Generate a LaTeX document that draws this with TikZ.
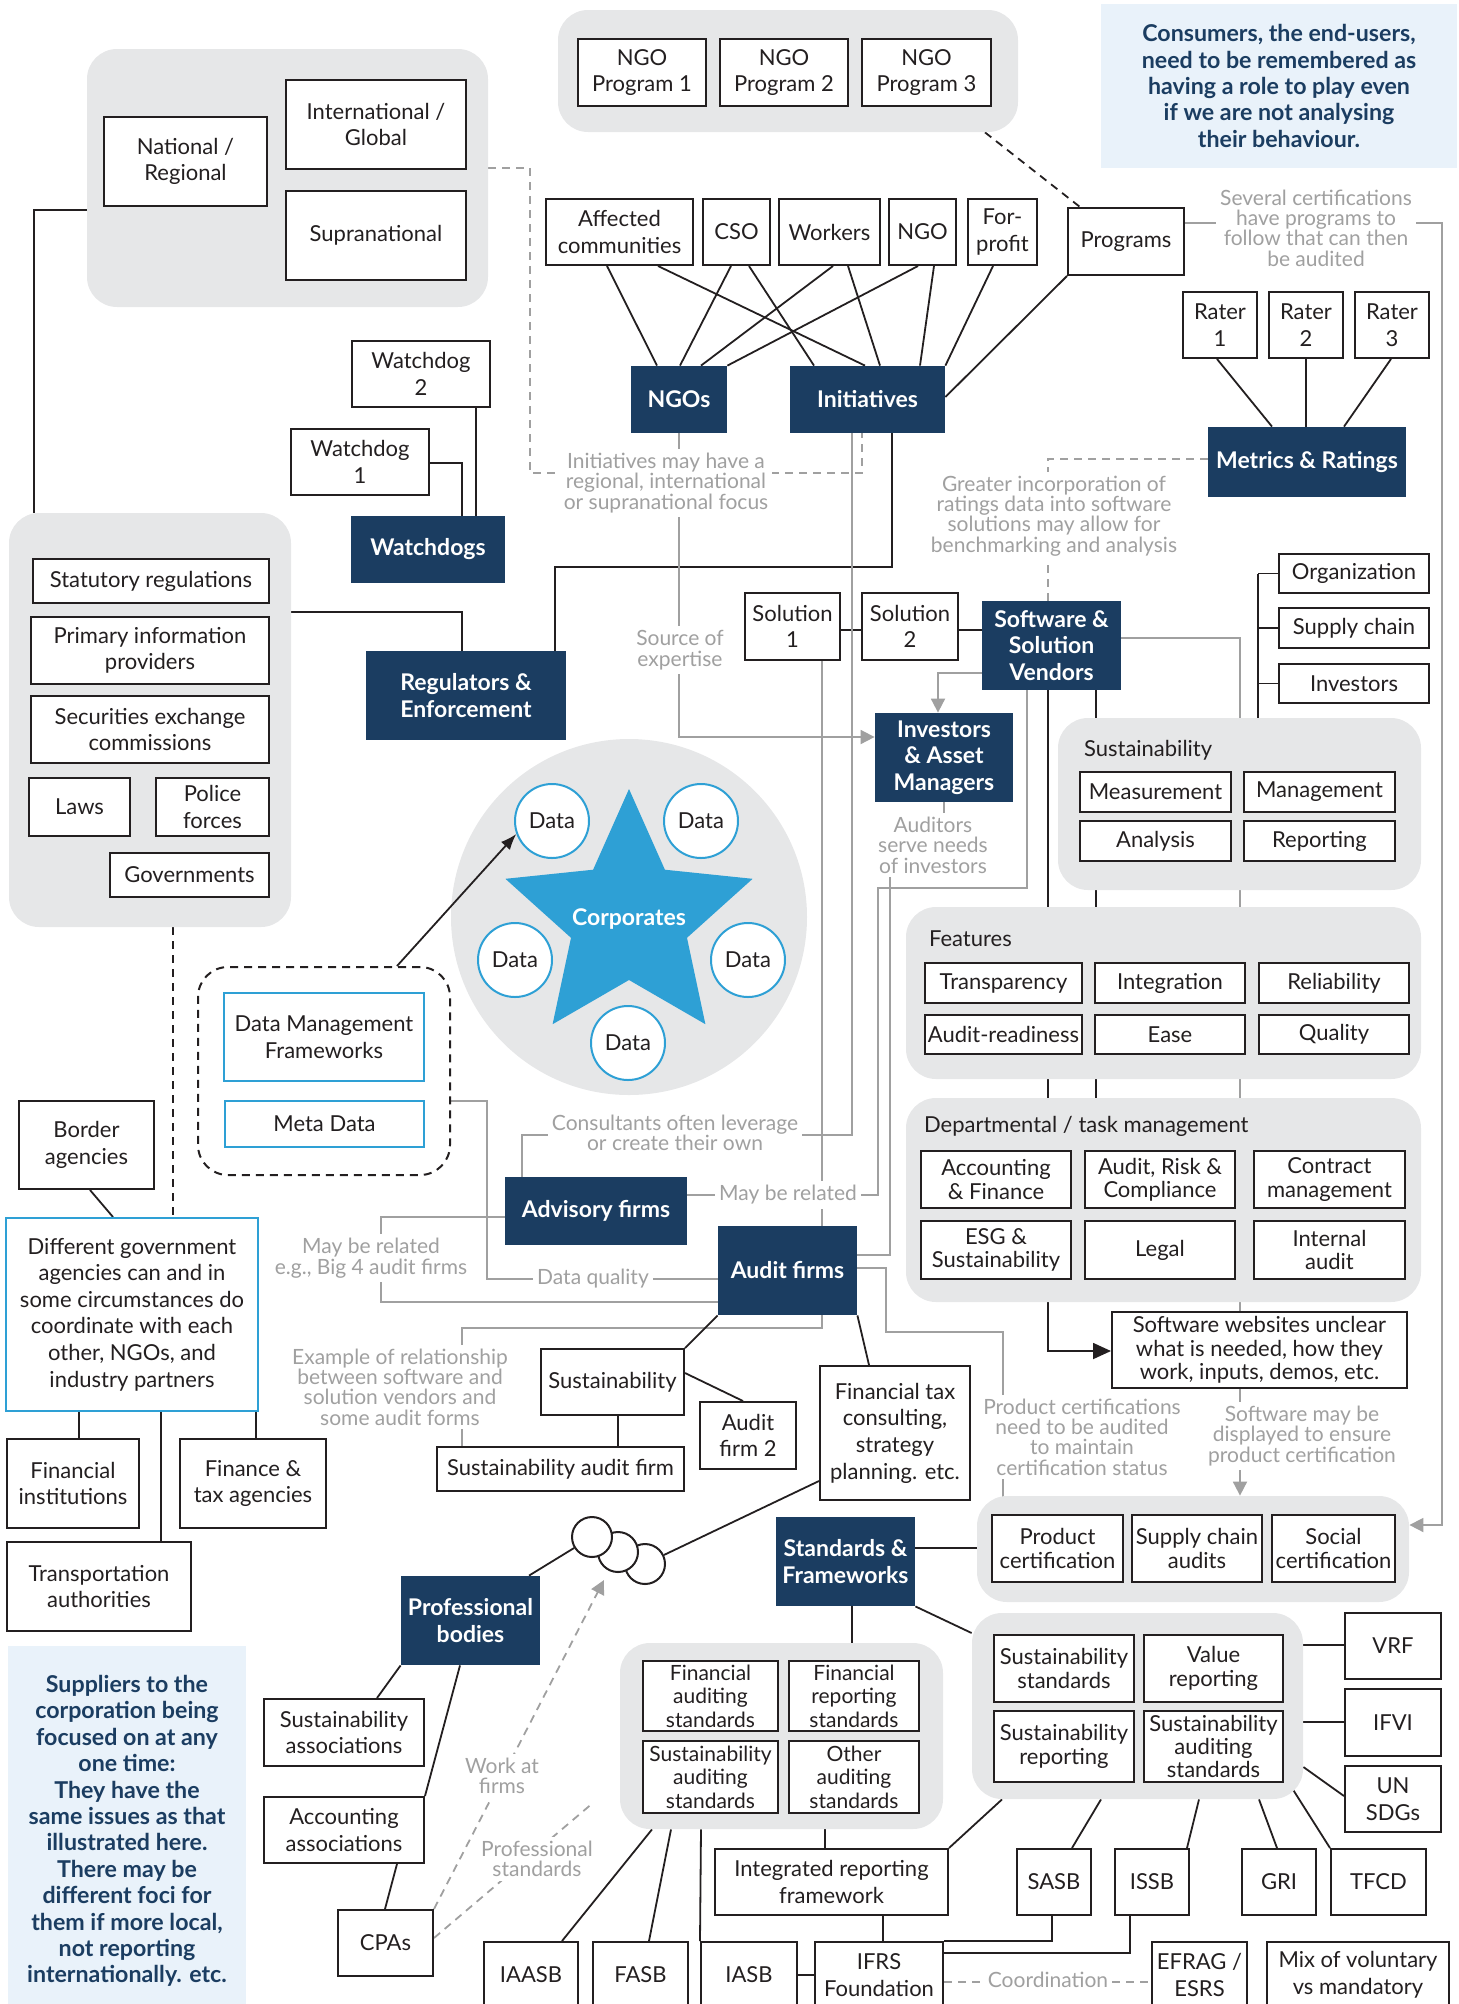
\documentclass[tikz,border=0pt]{standalone}
\usepackage{fontspec}
\setmainfont{Lato}
\usetikzlibrary{arrows.meta,calc}
\definecolor{navy}{RGB}{27,61,97}
\definecolor{skyb}{RGB}{46,160,213}
\definecolor{panel}{RGB}{230,231,232}
\definecolor{paleblue}{RGB}{233,242,250}
\definecolor{lgray}{RGB}{160,160,160}
\definecolor{ink}{RGB}{35,31,32}
\pgfdeclarelayer{bg}
\pgfsetlayers{bg,main}
\newcommand\fntMain{\fontsize{11}{13.3}\selectfont}
\newcommand\fntTight{\fontsize{11}{11.7}\selectfont}
\newcommand\fntSmall{\fontsize{10.5}{11.7}\selectfont}
\newcommand\fntBold{\fontsize{11.5}{13.3}\selectfont\bfseries}
\newcommand\fntNote{\fontsize{11.6}{13.2}\selectfont\bfseries}
\newcommand\fntLbl{\fontsize{10.5}{10.2}\selectfont}
\newcommand\bx[7][]{\node[#1,minimum width={(#5-#3)*0.5pt},minimum height={(#6-#4)*0.5pt}] (#2) at ({(#3+#5)/2},{(#4+#6)/2}) {#7};}
\begin{document}
\begin{tikzpicture}[x=0.5pt,y=-0.5pt,
 wb/.style={draw=ink,line width=1pt,fill=white,align=center,inner sep=0pt,font=\fntMain,text=ink},
 wt/.style={wb,font=\fntTight},
 bb/.style={wb,draw=skyb},
 db/.style={fill=navy,text=white,align=center,inner sep=0pt,font=\fntBold},
 pn/.style={fill=panel,rounded corners=15pt,inner sep=0pt},
 pb/.style={fill=paleblue,inner sep=0pt,align=center,text=navy,font=\fntNote},
 lb/.style={text=lgray,align=center,fill=white,inner sep=2pt,font=\fntLbl},
 bl/.style={draw=ink,line width=0.9pt},
 gl/.style={draw=lgray,line width=0.9pt},
 gd/.style={gl,dash pattern=on 4pt off 3pt},
 kd/.style={bl,dash pattern=on 4pt off 3pt},
 gtip/.style={-{Triangle[width=7pt,length=7pt]}},
 dat/.style={circle,draw=skyb,line width=1pt,fill=white,minimum size=37pt,inner sep=0pt,font=\fntMain,text=ink},
 sc/.style={circle,draw=ink,line width=1pt,fill=white,minimum size=20pt,inner sep=0pt},
]
\useasboundingbox (0,0) rectangle (1459,2004);
% ---------- panels ----------
\bx[pn]{geo}{87}{49}{488}{307}{}
\bx[pn]{ngop}{558}{10}{1018}{132}{}
\bx[pn]{regs}{9}{513}{291}{927}{}
\bx[pn]{susp}{1058}{718}{1421}{890}{}
\bx[pn]{featp}{906}{907}{1421}{1079}{}
\bx[pn]{deptp}{906}{1098}{1421}{1302}{}
\bx[pn]{certp}{977}{1496}{1409}{1602}{}
\bx[pn]{finp}{620}{1643}{943}{1829}{}
\bx[pn]{sustp}{972}{1613}{1303}{1799}{}
\node[circle,fill=panel,minimum size=178pt,inner sep=0pt] (corp) at (629,917) {};
\node[anchor=west,font=\fntMain,text=ink] (sustt) at (1077,750) {Sustainability};
\node[anchor=west,font=\fntMain,text=ink] (featt) at (922,939) {Features};
\node[anchor=west,font=\fntMain,text=ink] (deptt) at (917,1126) {Departmental / task management};
% ---------- pale blue notes ----------
\bx[pb]{consumers}{1101}{4}{1457}{168}{Consumers, the end-users,\\need to be remembered as\\having a role to play even\\if we are not analysing\\their behaviour.}
\bx[pb]{suppliers}{8}{1646}{246}{2016}{Suppliers to the\\corporation being\\focused on at any\\one time:\\They have the\\same issues as that\\illustrated here.\\There may be\\different foci for\\them if more local,\\not reporting\\internationally. etc.}
% ---------- dashed data box ----------
\bx[draw=ink,line width=1pt,dash pattern=on 4pt off 3pt,rounded corners=15pt,inner sep=0pt]{dmbox}{198}{967}{450}{1175}{}
% ---------- white boxes ----------
\bx[wb]{natreg}{104}{117}{267}{206}{National /\\Regional}
\bx[wb]{intl}{286}{80}{466}{169}{International /\\Global}
\bx[wb]{supra}{286}{191}{466}{280}{Supranational}
\bx[wb]{wd2}{352}{341}{490}{407}{Watchdog\\2}
\bx[wb]{wd1}{291}{429}{429}{495}{Watchdog\\1}
\bx[wb]{statreg}{33}{559}{269}{603}{Statutory regulations}
\bx[wb]{primary}{31}{617}{269}{684}{Primary information\\providers}
\bx[wb]{secx}{31}{696}{269}{763}{Securities exchange\\commissions}
\bx[wb]{laws}{29}{778}{130}{836}{Laws}
\bx[wb]{police}{156}{778}{269}{836}{Police\\forces}
\bx[wb]{govs}{110}{853}{269}{897}{Governments}
\bx[wb]{ngoa}{578}{39}{706}{106}{NGO\\Program 1}
\bx[wb]{ngob}{720}{39}{848}{106}{NGO\\Program 2}
\bx[wb]{ngoc}{862}{39}{991}{106}{NGO\\Program 3}
\bx[wb]{affected}{546}{199}{693}{265}{Affected\\communities}
\bx[wb]{cso}{703}{199}{770}{265}{CSO}
\bx[wb]{workers}{779}{199}{880}{265}{Workers}
\bx[wb]{ngo}{889}{199}{956}{265}{NGO}
\bx[wb]{forprofit}{968}{199}{1037}{265}{For-\\profit}
\bx[wb]{programs}{1068}{208}{1184}{275}{Programs}
\bx[wb]{ratera}{1183}{292}{1257}{358}{Rater\\1}
\bx[wb]{raterb}{1269}{292}{1343}{358}{Rater\\2}
\bx[wb]{raterc}{1355}{292}{1429}{358}{Rater\\3}
\bx[wb]{sola}{745}{593}{840}{660}{Solution\\1}
\bx[wb]{solb}{862}{593}{958}{660}{Solution\\2}
\bx[wb]{org}{1279}{554}{1429}{593}{Organization}
\bx[wb]{supch}{1279}{608}{1429}{648}{Supply chain}
\bx[wb]{invs}{1279}{664}{1429}{703}{Investors}
\bx[wb]{meas}{1080}{772}{1231}{812}{Measurement}
\bx[wb]{mgmt}{1244}{772}{1395}{812}{Management}
\bx[wb]{anal}{1080}{821}{1231}{861}{Analysis}
\bx[wb]{rep}{1244}{821}{1395}{861}{Reporting}
\bx[wb]{transp}{925}{963}{1082}{1003}{Transparency}
\bx[wb]{integ}{1095}{963}{1245}{1003}{Integration}
\bx[wb]{reli}{1259}{963}{1409}{1003}{Reliability}
\bx[wb]{auditr}{925}{1015}{1082}{1054}{Audit-readiness}
\bx[wb]{ease}{1095}{1015}{1245}{1054}{Ease}
\bx[wb]{quality}{1259}{1015}{1409}{1054}{Quality}
\bx[wt]{accfin}{921}{1151}{1071}{1208}{Accounting\\\& Finance}
\bx[wt]{arc}{1085}{1151}{1235}{1208}{Audit, Risk \&\\Compliance}
\bx[wt]{contract}{1254}{1151}{1405}{1208}{Contract\\management}
\bx[wt]{esg}{921}{1221}{1071}{1279}{ESG \&\\Sustainability}
\bx[wt]{legal}{1085}{1221}{1235}{1279}{Legal}
\bx[wt]{intaudit}{1254}{1221}{1405}{1279}{Internal\\audit}
\bx[wt]{swweb}{1112}{1312}{1407}{1388}{Software websites unclear\\what is needed, how they\\work, inputs, demos, etc.}
\bx[bb]{dmf}{224}{993}{424}{1081}{Data Management\\Frameworks}
\bx[bb]{meta}{225}{1101}{424}{1147}{Meta Data}
\bx[wb]{border}{19}{1101}{154}{1189}{Border\\agencies}
\bx[bb]{diffgov}{6}{1218}{258}{1411}{Different government\\agencies can and in\\some circumstances do\\coordinate with each\\other, NGOs, and\\industry partners}
\bx[wb]{fininst}{7}{1439}{139}{1528}{Financial\\institutions}
\bx[wb]{fintax}{180}{1439}{326}{1528}{Finance \&\\tax agencies}
\bx[wb]{transport}{7}{1542}{191}{1631}{Transportation\\authorities}
\bx[wb]{sustaud}{541}{1349}{684}{1415}{Sustainability}
\bx[wb]{sustaudfirm}{437}{1447}{684}{1491}{Sustainability audit firm}
\bx[wb]{auditfirmb}{700}{1402}{796}{1469}{Audit\\firm 2}
\bx[wb]{fintaxc}{820}{1366}{970}{1500}{Financial tax\\consulting,\\strategy\\planning. etc.}
\bx[wb]{sassoc}{264}{1699}{424}{1766}{Sustainability\\associations}
\bx[wb]{aassoc}{264}{1797}{424}{1863}{Accounting\\associations}
\bx[wb]{cpas}{338}{1910}{433}{1976}{CPAs}
\bx[wt]{prodcert}{992}{1515}{1123}{1582}{Product\\certification}
\bx[wt]{supaud}{1132}{1515}{1262}{1582}{Supply chain\\audits}
\bx[wt]{socialcert}{1272}{1515}{1395}{1582}{Social\\certification}
\bx[wt,font=\fntSmall]{finaud}{643}{1661}{778}{1731}{Financial\\auditing\\standards}
\bx[wt,font=\fntSmall]{finrep}{789}{1661}{919}{1731}{Financial\\reporting\\standards}
\bx[wt,font=\fntSmall]{sustaudstd}{643}{1741}{778}{1813}{Sustainability\\auditing\\standards}
\bx[wt,font=\fntSmall]{otheraud}{789}{1741}{919}{1813}{Other\\auditing\\standards}
\bx[wb]{irf}{715}{1849}{948}{1915}{Integrated reporting\\framework}
\bx[wb]{iaasb}{484}{1942}{578}{2008}{IAASB}
\bx[wb]{fasb}{593}{1942}{688}{2008}{FASB}
\bx[wb]{iasb}{701}{1942}{797}{2008}{IASB}
\bx[wb]{ifrs}{815}{1942}{943}{2008}{IFRS\\Foundation}
\bx[wt]{sstd}{994}{1635}{1134}{1702}{Sustainability\\standards}
\bx[wt]{valrep}{1144}{1635}{1283}{1702}{Value\\reporting}
\bx[wt]{srep}{994}{1711}{1134}{1782}{Sustainability\\reporting}
\bx[wt]{saudstd}{1144}{1711}{1283}{1782}{Sustainability\\auditing\\standards}
\bx[wb]{vrf}{1345}{1613}{1441}{1679}{VRF}
\bx[wb]{ifvi}{1345}{1689}{1441}{1756}{IFVI}
\bx[wb]{unsdg}{1345}{1766}{1441}{1832}{UN\\SDGs}
\bx[wb]{sasb}{1017}{1849}{1091}{1915}{SASB}
\bx[wb]{issb}{1115}{1849}{1189}{1915}{ISSB}
\bx[wb]{gri}{1242}{1849}{1316}{1915}{GRI}
\bx[wb]{tfcd}{1331}{1849}{1426}{1915}{TFCD}
\bx[wb]{efrag}{1152}{1942}{1247}{2008}{EFRAG /\\ESRS}
\bx[wb]{mix}{1267}{1942}{1449}{2008}{Mix of voluntary\\vs mandatory}
% ---------- dark boxes ----------
\bx[db]{ngos}{631}{366}{727}{433}{NGOs}
\bx[db]{inits}{790}{366}{945}{433}{Initiatives}
\bx[db]{metrics}{1208}{427}{1406}{497}{Metrics \& Ratings}
\bx[db]{watchdogs}{351}{516}{505}{583}{Watchdogs}
\bx[db]{regulators}{366}{651}{566}{740}{Regulators \&\\Enforcement}
\bx[db]{swv}{982}{601}{1121}{690}{Software \&\\Solution\\Vendors}
\bx[db]{investors}{875}{713}{1013}{802}{Investors\\\& Asset\\Managers}
\bx[db]{advisory}{505}{1177}{687}{1245}{Advisory firms}
\bx[db]{audit}{718}{1226}{857}{1315}{Audit firms}
\bx[db]{profb}{401}{1576}{540}{1665}{Professional\\bodies}
\bx[db]{stdfw}{776}{1517}{915}{1606}{Standards \&\\Frameworks}
% ---------- corporates star ----------
\fill[skyb] (629,789) -- (664.9,869.7) -- (752.6,878.8) -- (687,937.8) -- (705.4,1024.2) -- (629,980) -- (552.6,1024.2) -- (571,937.8) -- (505.4,878.8) -- (593.1,869.7) -- cycle;
\node[font=\fntBold,text=white] (corpl) at (629,919) {Corporates};
\node[dat] (da) at (552,821) {Data};
\node[dat] (db) at (701,821) {Data};
\node[dat] (dc) at (515,960) {Data};
\node[dat] (dd) at (748,960) {Data};
\node[dat] (de) at (628,1043) {Data};
% ---------- small circles ----------
\node[sc] (cc) at (645,1564) {};
\node[sc] (cb) at (618,1552) {};
\node[sc] (ca) at (592,1537) {};
% ---------- gray labels ----------
\node[lb] (lblinit) at (666,483) {Initiatives may have a\\regional, international\\or supranational focus};
\node[lb] (lblsrc) at (680,650) {Source of\\expertise};
\node[lb] (lblgreat) at (1054,516) {Greater incorporation of\\ratings data into software\\solutions may allow for\\benchmarking and analysis};
\node[lb] (lblsev) at (1316,228) {Several certifications\\have programs to\\follow that can then\\be audited};
\node[lb] (lblaud) at (933,845) {Auditors\\serve needs\\of investors};
\node[lb] (lblcons) at (675,1133) {Consultants often leverage\\or create their own};
\node[lb] (lblmay) at (788,1195) {May be related};
\node[lb] (lblbig) at (371,1258) {May be related\\e.g., Big 4 audit firms};
\node[lb] (lbldq) at (593,1279) {Data quality};
\node[lb] (lblex) at (400,1387) {Example of relationship\\between software and\\solution vendors and\\some audit forms};
\node[lb] (lblprod) at (1082,1437) {Product certifications\\need to be audited\\to maintain\\certification status};
\node[lb] (lblsw) at (1302,1436) {Software may be\\displayed to ensure\\product certification};
\node[lb] (lblwork) at (502,1776) {Work at\\firms};
\node[lb] (lblprof) at (537,1859) {Professional\\standards};
\node[lb] (lblcoord) at (1048,1980) {Coordination};
% ---------- connectors (behind) ----------
\begin{pgfonlayer}{bg}
\draw[bl] (geo.west |- 0,210) -| (34,0 |- regs.north);
\draw[bl] (wd1.east |- 0,463) -| (462,0 |- watchdogs.north);
\draw[bl] (476,0 |- wd2.south) -- (476,0 |- watchdogs.north);
\draw[bl] (regs.east |- 0,612) -| (462,0 |- regulators.north);
\draw[bl] (892,0 |- inits.south) |- (555,567) -- (555,0 |- regulators.north);
\draw[bl] (78,0 |- laws.south) |- (govs.west |- 0,862);
\draw[bl] (607,0 |- affected.south) -- (657,0 |- ngos.north);
\draw[bl] (658,0 |- affected.south) -- (865,0 |- inits.north);
\draw[bl] (731,0 |- cso.south) -- (680,0 |- ngos.north);
\draw[bl] (749,0 |- cso.south) -- (814,0 |- inits.north);
\draw[bl] (833,0 |- workers.south) -- (701,0 |- ngos.north);
\draw[bl] (848,0 |- workers.south) -- (880,0 |- inits.north);
\draw[bl] (918,0 |- ngo.south) -- (ngos.north east);
\draw[bl] (934,0 |- ngo.south) -- (920,0 |- inits.north);
\draw[bl] (993,0 |- forprofit.south) -- (inits.north east);
\draw[bl] (programs.south west) -- (inits.east |- 0,397);
\draw[kd] (985,0 |- ngop.south) -- (1080,0 |- programs.north);
\draw[bl] (1217,0 |- ratera.south) -- (1272,0 |- metrics.north);
\draw[bl] (raterb.south) -- (raterb.south |- metrics.north);
\draw[bl] (1391,0 |- raterc.south) -- (1344,0 |- metrics.north);
\draw[bl] (sola.east |- 0,630) -- (solb.west |- 0,630);
\draw[bl] (solb.east |- 0,630) -- (swv.west |- 0,630);
\draw[bl] (1258,0 |- org.west) -- (1258,0 |- susp.center);
\draw[bl] (1258,0 |- org.west) -- (org.west);
\draw[bl] (1258,0 |- supch.west) -- (supch.west);
\draw[bl] (1258,0 |- invs.west) -- (invs.west);
\draw[bl] (1096,0 |- swv.south) -- (1096,0 |- deptp.center);
\draw[bl,-{Triangle[width=8pt,length=9pt]}] (1048,0 |- swv.south) |- (swweb.west |- 0,1351);
\draw[gl] (swv.east |- 0,638) -| (1240,0 |- swweb.north);
\draw[gl,gtip] (swv.west |- 0,673) -| (938,0 |- investors.north);
\draw[gl] (1027,0 |- swv.south) |- (878,888) |- (advisory.east |- 0,1195);
\draw[gl] (852,0 |- inits.south) |- (522,1135) -- (522,0 |- advisory.north);
\draw[gl] (822,0 |- sola.south) |- (462,1328) -- (462,0 |- sustaudfirm.north);
\draw[gl] (944,0 |- investors.south) |- (890,845) |- (audit.east |- 0,1255);
\draw[gl,gtip] (679,0 |- ngos.south) |- (investors.west |- 0,737);
\draw[gd] (geo.east |- 0,168) -| (530,473) -| (862,0 |- inits.south);
\draw[gd] (metrics.west |- 0,459) -| (1048,0 |- swv.north);
\draw[gl,gtip] (programs.east |- 0,223) -| (1442,1525) -- (certp.east |- 0,1525);
\draw[gl] (dmbox.east |- 0,1101) -| (487,1279) -- (audit.west |- 0,1279);
\draw[gl] (advisory.west |- 0,1217) -| (381,1302) -- (audit.west |- 0,1302);
\draw[gl] (audit.east |- 0,1268) -| (886,1332) -| (1003,0 |- certp.center);
\draw[gl,gtip] (1240,0 |- swweb.south) -- (1240,0 |- certp.north);
\draw[bl] (audit.south west) -- (sustaud.north east);
\draw[bl] (sustaud.east |- 0,1373) -- (743,0 |- auditfirmb.north);
\draw[bl] (618,0 |- sustaud.south) -- (618,0 |- sustaudfirm.north);
\draw[bl] (audit.south east) -- (869,0 |- fintaxc.north);
\draw[bl] (fintaxc.west |- 0,1481) -- (cc);
\draw[bl] (ca) -- (529,0 |- profb.north);
\draw[bl] (profb.south west) -- (377,0 |- sassoc.north);
\draw[bl] (460,0 |- profb.south) -- (aassoc.north east);
\draw[bl] (397,0 |- aassoc.south) -- (385,0 |- cpas.north);
\draw[gd,gtip] (cpas.north east) -- (604,1580);
\draw[gd] (cpas.east |- 0,1938) -- (594,1802);
\draw[bl] (stdfw.east |- 0,1548) -- (certp.west |- 0,1548);
\draw[bl] (stdfw.south east) -- (sustp.west |- 0,1633);
\draw[bl] (852,0 |- stdfw.south) -- (852,0 |- finp.north);
\draw[bl] (652,0 |- finp.south) -- (562,0 |- iaasb.north);
\draw[bl] (671,0 |- finp.south) -- (649,0 |- fasb.north);
\draw[bl] (701,0 |- finp.south) -- (iasb.north west);
\draw[bl] (825,0 |- finp.south) -- (825,0 |- irf.north);
\draw[bl] (883,0 |- irf.south) -- (883,0 |- ifrs.north);
\draw[bl] (iasb.east |- 0,1975) -- (ifrs.west |- 0,1975);
\draw[bl] (irf.north east) -- (1002,0 |- sustp.south);
\draw[bl] (sustp.east |- 0,1645) -- (vrf.west |- 0,1645);
\draw[bl] (sustp.east |- 0,1722) -- (ifvi.west |- 0,1722);
\draw[bl] (sustp.east |- 0,1767) -- (unsdg.west |- 0,1796);
\draw[bl] (1101,0 |- sustp.south) -- (1072,0 |- sasb.north);
\draw[bl] (1199,0 |- sustp.south) -- (1187,0 |- issb.north);
\draw[bl] (1259,0 |- sustp.south) -- (1277,0 |- gri.north);
\draw[bl] (1240,0 |- sustp.center) -- (tfcd.north west);
\draw[bl] (1052,0 |- sasb.south) |- (ifrs.north east);
\draw[bl] (1130,0 |- issb.south) |- (ifrs.east |- 0,1953);
\draw[gd] (ifrs.east |- 0,1982) -- (efrag.west |- 0,1982);
\draw[bl] (90,0 |- border.south) -- (113,0 |- diffgov.north);
\draw[kd] (173,0 |- regs.south) -- (173,0 |- diffgov.north);
\draw[bl] (79,0 |- diffgov.south) -- (79,0 |- fininst.north);
\draw[bl] (256,0 |- diffgov.south) -- (256,0 |- fintax.north);
\draw[bl] (161,0 |- diffgov.south) -- (161,0 |- transport.north);
\end{pgfonlayer}
\draw[bl,-{Latex[length=8pt,width=6pt]}] (397,0 |- dmbox.north) -- (da.200);
\end{tikzpicture}
\end{document}
